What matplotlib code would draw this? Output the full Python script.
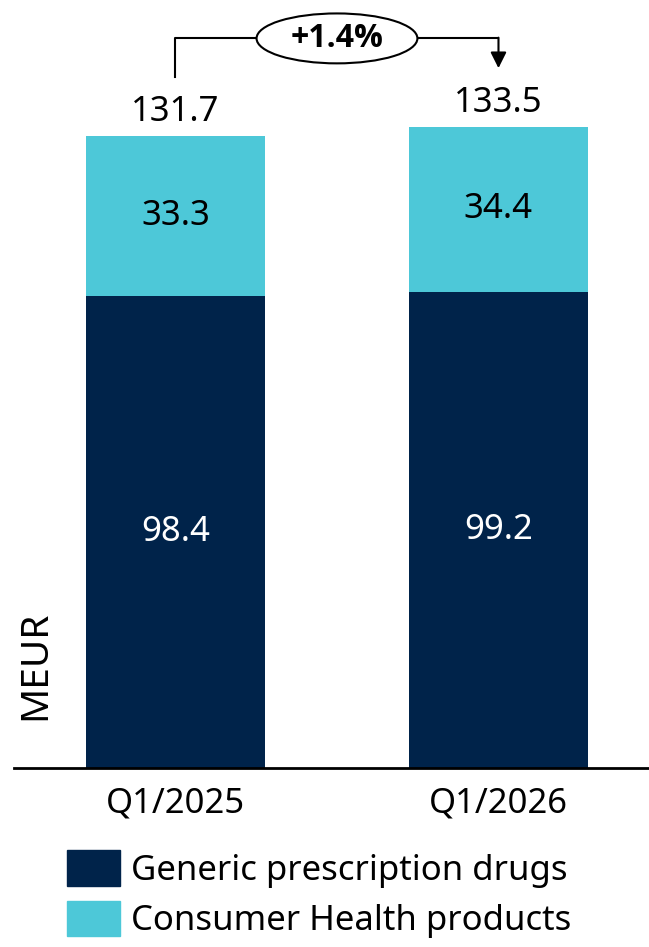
import numpy as np
import matplotlib.pyplot as plt
from matplotlib.patches import Ellipse, Patch

plt.rcParams['font.family'] = ['Noto Sans', 'DejaVu Sans']

# sales split per quarter, MEUR
periods = ['Q1/2025', 'Q1/2026']
generic_rx = [98.4, 99.2]
consumer_health = [33.3, 34.4]
totals = [131.7, 133.5]
growth_label = '+1.4%'

navy = '#00234A'
cyan = '#4DC8D8'

fig = plt.figure(figsize=(6.49, 9.47), dpi=100)
ax = fig.add_axes([0, 179 / 947, 1, 768 / 947])

x = np.arange(len(periods))
bar_w = 0.554
ax.bar(x, generic_rx, width=bar_w, color=navy, label='Generic prescription drugs')
ax.bar(x, consumer_health, width=bar_w, bottom=generic_rx, color=cyan,
       label='Consumer Health products')

ax.set_xlim(-0.5433, 1.466)
ax.set_ylim(0, 160)
for s in ax.spines.values():
    s.set_visible(False)
ax.set_yticks([])
ax.set_xticks([])
ax.axhline(0, xmin=14 / 649, xmax=1, color='black', lw=2, clip_on=False)

for i in x:
    ax.text(i, generic_rx[i] / 2, f'{generic_rx[i]:.1f}', ha='center', va='center',
            color='white', fontsize=25)
    ax.text(i, generic_rx[i] + consumer_health[i] / 2, f'{consumer_health[i]:.1f}',
            ha='center', va='center', color='black', fontsize=25)
    ax.text(i, totals[i] + 5.0, f'{totals[i]:.1f}', ha='center', va='center',
            color='black', fontsize=25)
    ax.text(i, -7.3, periods[i], ha='center', va='center', color='black', fontsize=25)

# growth bracket with ellipse badge
y_top = 152.0
ax.plot([0, 0, 0.25], [totals[0] + 12.3, y_top, y_top], color='black', lw=1.5,
        clip_on=False)
ax.plot([0.75, 1], [y_top, y_top], color='black', lw=1.5, clip_on=False)
ax.annotate('', xy=(1, totals[1] + 12.3), xytext=(1, y_top + 0.15),
            arrowprops=dict(arrowstyle='-|>', color='black', lw=1.5,
                            mutation_scale=24, shrinkA=0, shrinkB=0),
            annotation_clip=False)
ax.add_patch(Ellipse((0.5, y_top), 0.498, 10.4, facecolor='white',
                     edgecolor='black', lw=1.5, clip_on=False, zorder=3))
ax.text(0.5, y_top, growth_label, ha='center', va='center', fontsize=23,
        family=['Open Sans', 'DejaVu Sans'], fontweight='bold', zorder=4)

fig.text(35 / 649, 1 - 665 / 947, 'MEUR', rotation=90, ha='center', va='center',
         fontsize=28)

handles = [Patch(color=navy), Patch(color=cyan)]
fig.legend(handles, ['Generic prescription drugs', 'Consumer Health products'],
           loc='upper left', bbox_to_anchor=(67 / 649, 1 - 850 / 947),
           frameon=False, fontsize=25, borderpad=0, borderaxespad=0,
           handlelength=1.53, handleheight=1.2, handletextpad=0.32,
           labelspacing=0.38)

fig.savefig('out.png', dpi=100)
